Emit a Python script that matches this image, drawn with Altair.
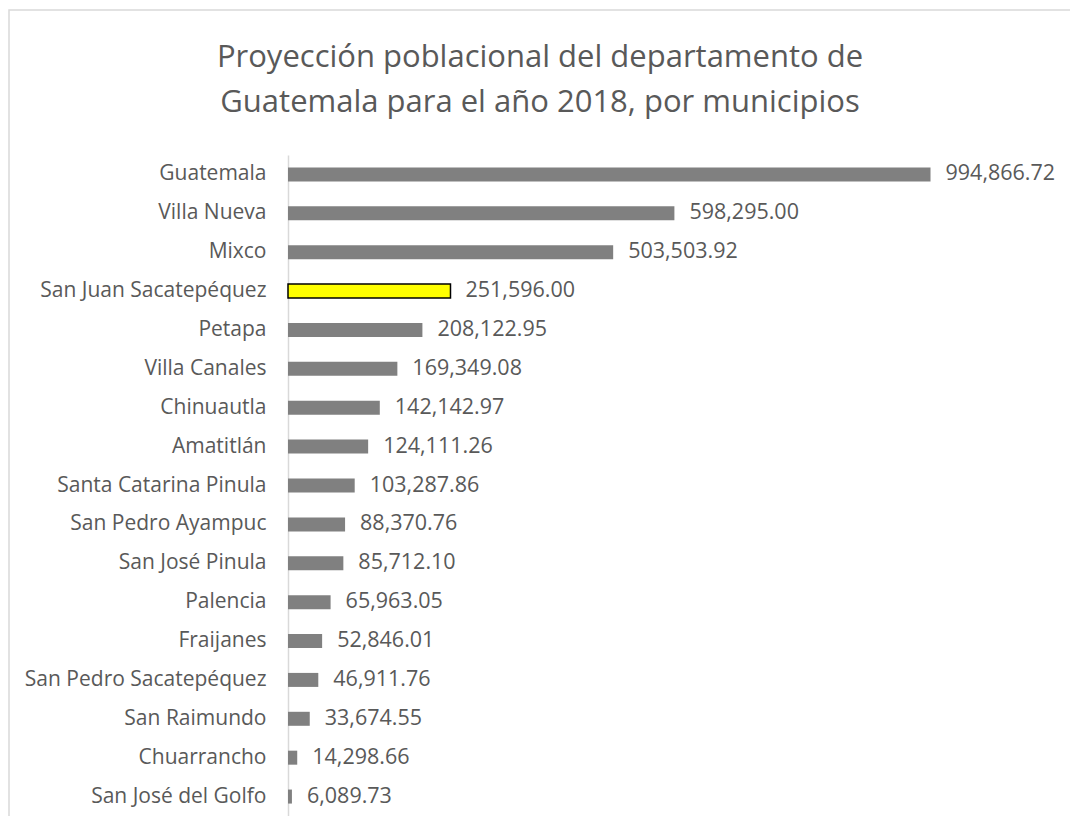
import altair as alt
import pandas as pd

municipios = [
    "Guatemala", "Villa Nueva", "Mixco", "San Juan Sacatepéquez", "Petapa",
    "Villa Canales", "Chinuautla", "Amatitlán", "Santa Catarina Pinula",
    "San Pedro Ayampuc", "San José Pinula", "Palencia", "Fraijanes",
    "San Pedro Sacatepéquez", "San Raimundo", "Chuarrancho", "San José del Golfo",
]
poblacion = [
    994866.72, 598295.00, 503503.92, 251596.00, 208122.95,
    169349.08, 142142.97, 124111.26, 103287.86,
    88370.76, 85712.10, 65963.05, 52846.01,
    46911.76, 33674.55, 14298.66, 6089.73,
]
resaltado = "San Juan Sacatepéquez"
titulo = ["Proyección poblacional del departamento de",
          "Guatemala para el año 2018, por municipios"]

df = pd.DataFrame({"municipio": municipios, "poblacion": poblacion})
df["destacado"] = df["municipio"] == resaltado

FONT = "Open Sans"
TXT = "#595959"

y_enc = alt.Y("municipio:N", sort=municipios,
              scale=alt.Scale(paddingInner=0.64, paddingOuter=0.32),
              axis=alt.Axis(title=None, ticks=False, domainColor="#d9d9d9",
                            domainWidth=1.5, labelFont=FONT, labelFontSize=21,
                            labelColor=TXT, labelPadding=22, labelLimit=400))
x_enc = alt.X("poblacion:Q", scale=alt.Scale(domain=[0, 1200000], nice=False),
              axis=None)

bars = alt.Chart(df).mark_bar().encode(
    x=x_enc, y=y_enc,
    color=alt.condition("datum.destacado", alt.value("#ffff00"), alt.value("#808080")),
    stroke=alt.condition("datum.destacado", alt.value("#000000"), alt.value("#808080")),
    strokeWidth=alt.condition("datum.destacado", alt.value(1.5), alt.value(0)),
)

labels = alt.Chart(df).mark_text(align="left", baseline="middle", dx=15,
                                 font=FONT, fontSize=21.5, color=TXT).encode(
    x=x_enc, y=alt.Y("municipio:N", sort=municipios),
    text=alt.Text("poblacion:Q", format=",.2f"),
)

border = alt.Chart(df.head(1)).mark_rect(fill=None, stroke="#d9d9d9",
                                         strokeWidth=1.5, clip=False).encode(
    x=alt.value(-279), x2=alt.value(800),
    y=alt.value(-145), y2=alt.value(700),
)

title1 = alt.Chart(df.head(1)).mark_text(
    align="center", baseline="middle", font=FONT, fontSize=31, color=TXT,
    text=titulo[0]).encode(x=alt.value(252), y=alt.value(-97))
title2 = alt.Chart(df.head(1)).mark_text(
    align="center", baseline="middle", font=FONT, fontSize=31, color=TXT,
    text=titulo[1]).encode(x=alt.value(252), y=alt.value(-52))

chart = alt.layer(border, bars, labels, title1, title2).properties(
    width=775, height=661,
    padding={"left": 280, "top": 147, "right": 7, "bottom": 0},
    autosize=alt.AutoSizeParams(type="none"),
).configure_view(stroke=None)

chart.save("out.html", embed_options={"renderer": "svg", "actions": False})
